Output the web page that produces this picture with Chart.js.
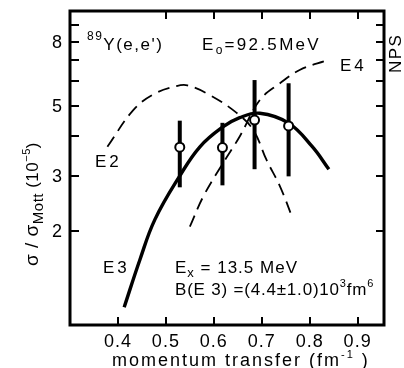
<!DOCTYPE html>
<html>
<head>
<meta charset="utf-8">
<script src="https://cdn.jsdelivr.net/npm/chart.js@4.4.0/dist/chart.umd.min.js"></script>
<style>
  html, body { margin: 0; padding: 0; background: #fff; }
  #wrap { width: 404px; height: 368px; }
</style>
</head>
<body>
<div id="wrap"><canvas id="xsChart" width="404" height="368"></canvas></div>
<script>
// 89Y(e,e') form factor, Ex = 13.5 MeV, E0 = 92.5 MeV
// x: momentum transfer (fm^-1), y: sigma/sigma_Mott (10^-5)
const measQ = [0.529, 0.618, 0.685, 0.756];
const measY = [3.70, 3.69, 4.51, 4.32];
const measLo = [2.76, 2.80, 3.15, 2.99];
const measHi = [4.49, 4.42, 6.04, 5.90];

const e3Q = [0.413, 0.446, 0.477, 0.529, 0.571, 0.618, 0.654, 0.696, 0.756, 0.805, 0.840];
const e3Y = [1.15, 1.63, 2.18, 3.00, 3.71, 4.28, 4.59, 4.74, 4.41, 3.72, 3.15];

const e2Q = [0.378, 0.432, 0.474, 0.522, 0.545, 0.592, 0.647, 0.682, 0.710, 0.738, 0.764];
const e2Y = [3.71, 4.85, 5.44, 5.78, 5.81, 5.41, 4.76, 4.20, 3.37, 2.78, 2.21];

const e4Q = [0.550, 0.578, 0.619, 0.654, 0.696, 0.738, 0.779, 0.838];
const e4Y = [2.07, 2.58, 3.29, 4.00, 5.22, 5.90, 6.50, 6.99];

const xTicks = [0.4, 0.5, 0.6, 0.7, 0.8, 0.9];
const yTicks = [2, 3, 4, 5, 6, 7, 8, 9];
const yLabels = [2, 3, 5, 8];

const FONT = '"Liberation Sans", Arial, sans-serif';

const pts = (xs, ys) => xs.map((x, i) => ({ x: x, y: ys[i] }));

// draws a row of text pieces, some raised or lowered
function runs(ctx, x, y, parts, spacing) {
  parts.forEach(p => {
    ctx.font = p.size + 'px ' + FONT;
    ctx.letterSpacing = (p.sp !== undefined ? p.sp : spacing) + 'px';
    ctx.fillText(p.t, x, y + (p.dy || 0));
    x += ctx.measureText(p.t).width;
  });
  ctx.letterSpacing = '0px';
}

const errorBars = {
  id: 'errorBars',
  beforeDatasetDraw(chart, args) {
    if (args.index !== 0) return;
    const { ctx, scales: { x, y } } = chart;
    ctx.save();
    ctx.strokeStyle = '#000';
    ctx.lineWidth = 4;
    measQ.forEach((q, i) => {
      const px = x.getPixelForValue(q);
      ctx.beginPath();
      ctx.moveTo(px, y.getPixelForValue(measLo[i]));
      ctx.lineTo(px, y.getPixelForValue(measHi[i]));
      ctx.stroke();
    });
    ctx.restore();
  }
};

const frame = {
  id: 'frame',
  afterDraw(chart) {
    const { ctx, chartArea: a, scales: { x, y } } = chart;
    ctx.save();
    ctx.strokeStyle = '#000';
    ctx.fillStyle = '#000';

    // inward ticks
    ctx.lineWidth = 2;
    ctx.beginPath();
    xTicks.forEach(v => {
      const px = Math.round(x.getPixelForValue(v));
      ctx.moveTo(px, a.bottom);
      ctx.lineTo(px, a.bottom - 8);
      if (v >= 0.5) {
        ctx.moveTo(px, a.top);
        ctx.lineTo(px, a.top + 8);
      }
    });
    yTicks.forEach(v => {
      const py = Math.round(y.getPixelForValue(v));
      ctx.moveTo(a.left, py);
      ctx.lineTo(a.left + 9, py);
      ctx.moveTo(a.right, py);
      ctx.lineTo(a.right - 8, py);
    });
    ctx.stroke();

    ctx.lineWidth = 3;
    ctx.strokeRect(a.left, a.top, a.right - a.left, a.bottom - a.top);

    // tick labels
    ctx.font = '18px ' + FONT;
    ctx.textAlign = 'center';
    ctx.textBaseline = 'alphabetic';
    ctx.letterSpacing = '1px';
    xTicks.forEach(v => {
      ctx.fillText(v.toFixed(1), x.getPixelForValue(v), 347);
    });
    ctx.textAlign = 'right';
    ctx.textBaseline = 'middle';
    yLabels.forEach(v => {
      ctx.fillText(String(v), 63, y.getPixelForValue(v) + 1);
    });
    ctx.textAlign = 'left';
    ctx.textBaseline = 'alphabetic';

    // axis titles
    runs(ctx, 112, 366, [
      { t: 'momentum transfer (fm', size: 18 },
      { t: '-1', size: 11, dy: -8 },
      { t: ' )', size: 18 }
    ], 2);

    ctx.save();
    ctx.translate(38, 266);
    ctx.rotate(-Math.PI / 2);
    runs(ctx, 0, 0, [
      { t: 'σ / σ', size: 19 },
      { t: 'Mott', size: 15, dy: 5 },
      { t: ' (10', size: 17 },
      { t: '−5', size: 11, dy: -8 },
      { t: ')', size: 17 }
    ], 0.5);
    ctx.restore();

    // annotations
    runs(ctx, 87, 50, [
      { t: '89', size: 12, dy: -10 },
      { t: 'Y(e,e\')', size: 17 }
    ], 1.5);
    runs(ctx, 202, 50, [
      { t: 'E', size: 17 },
      { t: 'o', size: 12, dy: 4 },
      { t: '=92.5MeV', size: 17 }
    ], 2.3);
    runs(ctx, 340, 71, [{ t: 'E4', size: 17 }], 3);
    runs(ctx, 95, 167, [{ t: 'E2', size: 17 }], 3);
    runs(ctx, 103, 273, [{ t: 'E3', size: 17 }], 3);
    runs(ctx, 175, 273, [
      { t: 'E', size: 17 },
      { t: 'x', size: 13, dy: 4 },
      { t: ' = 13.5 MeV', size: 17 }
    ], 1);
    runs(ctx, 175, 295, [
      { t: 'B(E 3) =(4.4±1.0)10', size: 17 },
      { t: '3', size: 11, dy: -8 },
      { t: 'fm', size: 17 },
      { t: '6', size: 11, dy: -8 }
    ], 0.8);

    ctx.save();
    ctx.translate(401, 73);
    ctx.rotate(-Math.PI / 2);
    runs(ctx, 0, 0, [{ t: 'NPS', size: 17 }], 1.5);
    ctx.restore();

    ctx.restore();
  }
};

new Chart(document.getElementById('xsChart'), {
  type: 'line',
  data: {
    datasets: [
      {
        label: 'data',
        data: pts(measQ, measY),
        showLine: false,
        pointRadius: 4.5,
        pointBorderWidth: 2,
        pointBackgroundColor: '#fff',
        pointBorderColor: '#000'
      },
      {
        label: 'E3',
        data: pts(e3Q, e3Y),
        borderColor: '#000',
        borderWidth: 3.4,
        pointRadius: 0,
        tension: 0.4
      },
      {
        label: 'E2',
        data: pts(e2Q, e2Y),
        borderColor: '#000',
        borderWidth: 1.8,
        borderDash: [12, 7],
        pointRadius: 0,
        tension: 0.4
      },
      {
        label: 'E4',
        data: pts(e4Q, e4Y),
        borderColor: '#000',
        borderWidth: 1.8,
        borderDash: [12, 7],
        pointRadius: 0,
        tension: 0.4
      }
    ]
  },
  options: {
    responsive: false,
    animation: false,
    layout: { padding: { left: 70, right: 20, top: 11, bottom: 43 } },
    plugins: {
      legend: { display: false },
      tooltip: { enabled: false }
    },
    scales: {
      x: { type: 'linear', min: 0.3, max: 0.955, display: false },
      y: { type: 'logarithmic', min: 1.01, max: 10, display: false }
    }
  },
  plugins: [errorBars, frame]
});
</script>
</body>
</html>
